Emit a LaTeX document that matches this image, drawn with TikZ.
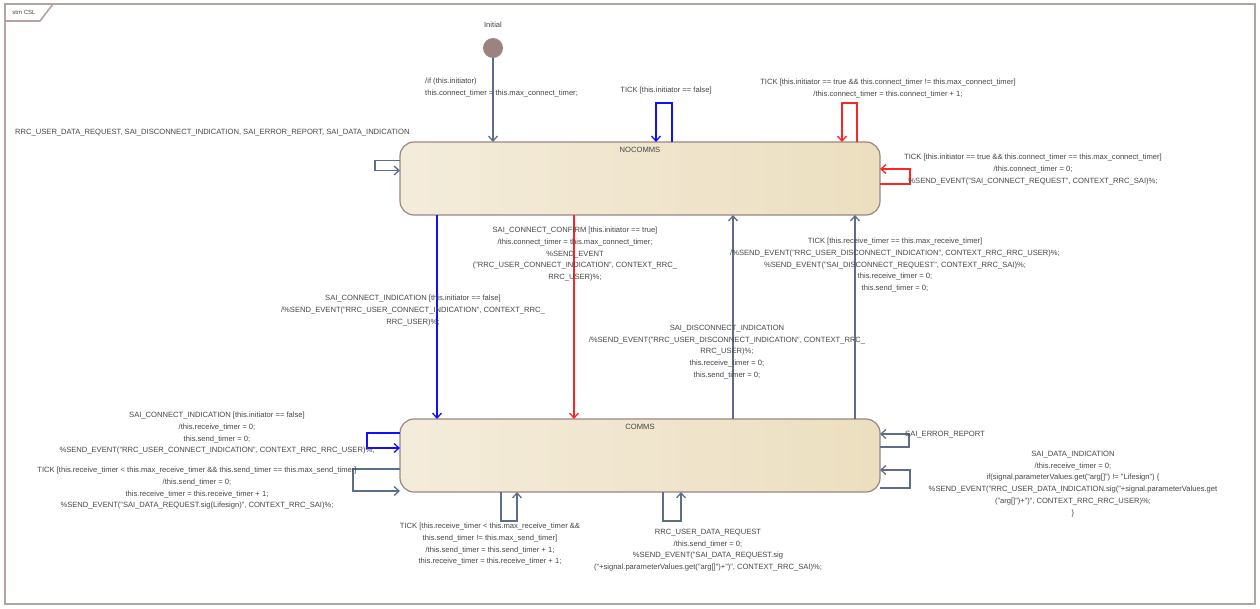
\documentclass[tikz,border=0pt]{standalone}
\usepackage{fontspec}
\setmainfont{Liberation Sans}
\usetikzlibrary{arrows.meta}
\definecolor{framec}{HTML}{B3A3A1}
\definecolor{nodeborder}{HTML}{9A8683}
\definecolor{statel}{HTML}{F4ECDB}
\definecolor{stater}{HTML}{ECDFC0}
\definecolor{initc}{HTML}{9C8380}
\definecolor{grayc}{HTML}{5F6D8C}
\definecolor{bluec}{HTML}{1010FF}
\definecolor{redc}{HTML}{FF2424}
\definecolor{txtc}{HTML}{454545}
\begin{document}
\begin{tikzpicture}[x=1pt,y=-1pt,
  state/.style={draw=nodeborder, line width=1.2pt, rounded corners=14pt,
    left color=statel, right color=stater, minimum width=480pt,
    minimum height=73pt, inner sep=0pt, outer sep=0pt},
  lbl/.style={font=\fontsize{7.6}{11.7}\selectfont, text=txtc, align=center, inner sep=0pt},
  lbll/.style={font=\fontsize{7.6}{11.7}\selectfont, text=txtc, align=left, inner sep=0pt},
  trans/.style={line width=1.3pt, -{Straight Barb[length=5pt,width=9pt]}},
  ]
\useasboundingbox (0,0) rectangle (1260,608);
% frame
\draw[framec, line width=1.6pt] (5,4) rectangle (1255,604);
\draw[framec, line width=1.6pt] (5,21) -- (40,21) -- (53,4);
\node[lbl, font=\fontsize{6}{7}\selectfont] (frametitle) at (24,12.5) {stm CSL};

% states
\node[state] (nocomms) at (640,178.5) {};
\node[state] (comms) at (640,455.5) {};
\node[lbl, anchor=north] (nocommst) at ([yshift=-5pt]nocomms.north) {NOCOMMS};
\node[lbl, anchor=north] (commst) at ([yshift=-5pt]comms.north) {COMMS};

% initial
\node[circle, fill=initc, minimum size=20pt, inner sep=0pt] (init) at (493,48) {};
\node[lbl, anchor=south] (initl) at (493,28) {Initial};
\draw[trans, grayc] (init) -- (init |- nocomms.north);
\node[lbll, anchor=north west] (initlbl) at (425,78) {/if (this.initiator)\\this.connect\_timer = this.max\_connect\_timer;};

% NOCOMMS self loops
\draw[trans, bluec] ([xshift=32pt]nocomms.north) -- ++(0,-39) -- ++(-16,0) -- ++(0,39);
\node[lbl, anchor=north] (l1) at (666,87) {TICK [this.initiator == false]};
\draw[trans, redc] ([xshift=217pt]nocomms.north) -- ++(0,-39) -- ++(-15,0) -- ++(0,39);
\node[lbl, anchor=north] (l2) at (888,79) {TICK [this.initiator == true \&\& this.connect\_timer != this.max\_connect\_timer]\\/this.connect\_timer = this.connect\_timer + 1;};
\draw[trans, grayc] ([yshift=18pt]nocomms.west) -- ++(-25,0) -- ++(0,10) -- ++(25,0);
\node[lbll, anchor=north west] (l3) at (15,129) {RRC\_USER\_DATA\_REQUEST, SAI\_DISCONNECT\_INDICATION, SAI\_ERROR\_REPORT, SAI\_DATA\_INDICATION};
\draw[trans, redc] ([yshift=-5.5pt]nocomms.east) -- ++(30,0) -- ++(0,-15) -- ++(-30,0);
\node[lbl, anchor=north] (l4) at (1033,154) {TICK [this.initiator == true \&\& this.connect\_timer == this.max\_connect\_timer]\\/this.connect\_timer = 0;\\\%SEND\_EVENT("SAI\_CONNECT\_REQUEST", CONTEXT\_RRC\_SAI)\%;};

% between states
\draw[trans, bluec] ([xshift=37pt]nocomms.south west) -- ([xshift=37pt]comms.north west);
\node[lbl, anchor=north] (l5) at (413,295) {SAI\_CONNECT\_INDICATION [this.initiator == false]\\/\%SEND\_EVENT("RRC\_USER\_CONNECT\_INDICATION", CONTEXT\_RRC\_\\RRC\_USER)\%;};
\draw[trans, redc] ([xshift=174pt]nocomms.south west) -- ([xshift=174pt]comms.north west);
\node[lbl, anchor=north] (l6) at (575,227) {SAI\_CONNECT\_CONFIRM [this.initiator == true]\\/this.connect\_timer = this.max\_connect\_timer;\\\%SEND\_EVENT\\("RRC\_USER\_CONNECT\_INDICATION", CONTEXT\_RRC\_\\RRC\_USER)\%;};
\draw[trans, grayc] ([xshift=333pt]comms.north west) -- ([xshift=333pt]nocomms.south west);
\node[lbl, anchor=north] (l7) at (727,325) {SAI\_DISCONNECT\_INDICATION\\/\%SEND\_EVENT("RRC\_USER\_DISCONNECT\_INDICATION", CONTEXT\_RRC\_\\RRC\_USER)\%;\\this.receive\_timer = 0;\\this.send\_timer = 0;};
\draw[trans, grayc] ([xshift=455pt]comms.north west) -- ([xshift=455pt]nocomms.south west);
\node[lbl, anchor=north] (l8) at (895,238) {TICK [this.receive\_timer == this.max\_receive\_timer]\\/\%SEND\_EVENT("RRC\_USER\_DISCONNECT\_INDICATION", CONTEXT\_RRC\_RRC\_USER)\%;\\\%SEND\_EVENT("SAI\_DISCONNECT\_REQUEST", CONTEXT\_RRC\_SAI)\%;\\this.receive\_timer = 0;\\this.send\_timer = 0;};

% COMMS self loops
\draw[trans, bluec] ([yshift=22.5pt]comms.west) -- ++(-33,0) -- ++(0,15) -- ++(33,0);
\node[lbl, anchor=north] (l9) at (217,412) {SAI\_CONNECT\_INDICATION [this.initiator == false]\\/this.receive\_timer = 0;\\this.send\_timer = 0;\\\%SEND\_EVENT("RRC\_USER\_CONNECT\_INDICATION", CONTEXT\_RRC\_RRC\_USER)\%;};
\draw[trans, grayc] ([yshift=-13.5pt]comms.west) -- ++(-47,0) -- ++(0,22) -- ++(47,0);
\node[lbl, anchor=north] (l10) at (197,467) {TICK [this.receive\_timer < this.max\_receive\_timer \&\& this.send\_timer == this.max\_send\_timer]\\/this.send\_timer = 0;\\this.receive\_timer = this.receive\_timer + 1;\\\%SEND\_EVENT("SAI\_DATA\_REQUEST.sig(Lifesign)", CONTEXT\_RRC\_SAI)\%;};
\draw[trans, grayc] ([xshift=101pt]comms.south west) -- ++(0,29) -- ++(16,0) -- ++(0,-29);
\node[lbl, anchor=north] (l11) at (490,523) {TICK [this.receive\_timer < this.max\_receive\_timer \&\&\\this.send\_timer != this.max\_send\_timer]\\/this.send\_timer = this.send\_timer + 1;\\this.receive\_timer = this.receive\_timer + 1;};
\draw[trans, grayc] ([xshift=263pt]comms.south west) -- ++(0,29) -- ++(18,0) -- ++(0,-29);
\node[lbl, anchor=north] (l12) at (708,529) {RRC\_USER\_DATA\_REQUEST\\/this.send\_timer = 0;\\\%SEND\_EVENT("SAI\_DATA\_REQUEST.sig\\("+signal.parameterValues.get("arg[]")+")", CONTEXT\_RRC\_SAI)\%;};
\draw[trans, grayc] ([yshift=8.5pt]comms.east) -- ++(29,0) -- ++(0,-13) -- ++(-29,0);
\node[lbll, anchor=west] (l13) at (905,435) {SAI\_ERROR\_REPORT};
\draw[trans, grayc] ([yshift=-32.5pt]comms.east) -- ++(30,0) -- ++(0,-18) -- ++(-30,0);
\node[lbl, anchor=north] (l14) at (1073,451) {SAI\_DATA\_INDICATION\\/this.receive\_timer = 0;\\if(signal.parameterValues.get("arg[]") != "Lifesign") \{\\\%SEND\_EVENT("RRC\_USER\_DATA\_INDICATION.sig("+signal.parameterValues.get\\("arg[]")+")", CONTEXT\_RRC\_RRC\_USER)\%;\\\}};
\end{tikzpicture}
\end{document}
